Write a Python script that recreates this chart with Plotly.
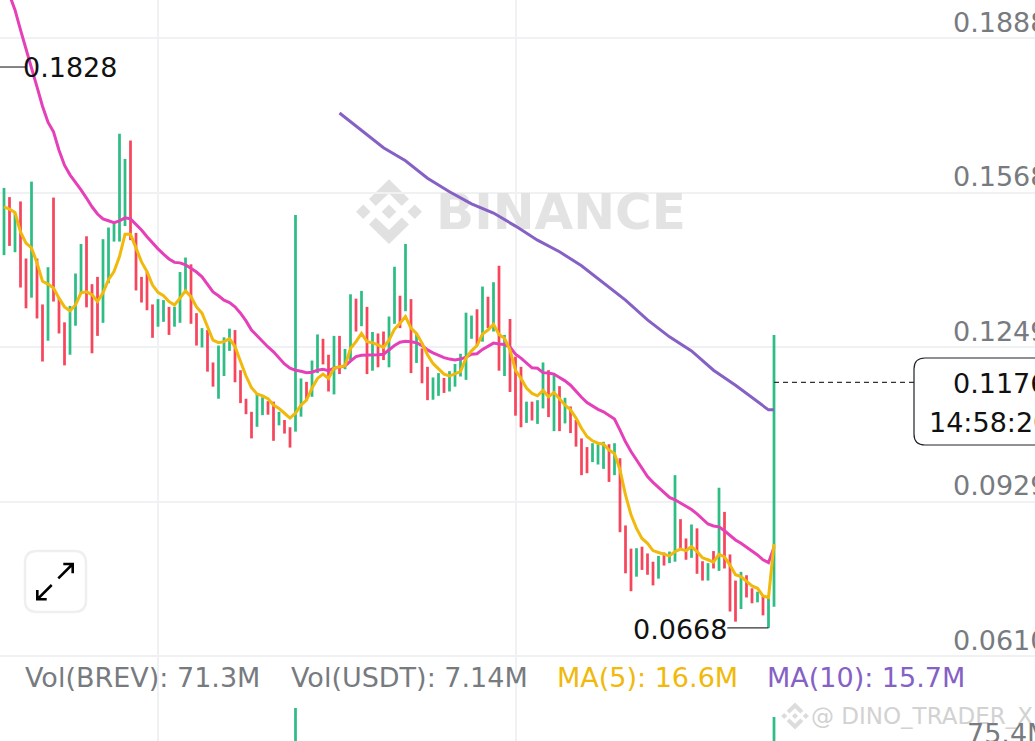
import numpy as np
import plotly.graph_objects as go

W, H = 1035, 741

# candle data (oldest first)
candle_high = [
    .1578, .1559, .1526, .1550, .1432, .1591, .1432, .1337, .1414, .1558,
    .1350, .1300, .1334, .1401, .1462, .1478, .1379, .1394, .1472, .1496,
    .1505, .1690, .1638, .1676, .1485, .1394, .1405, .1337, .1348, .1346,
    .1332, .1332, .1404, .1434, .1420, .1319, .1288, .1284, .1217, .1252,
    .1269, .1287, .1284, .1201, .1142, .1115, .1152, .1145, .1137, .1136,
    .1115, .1098, .1083, .1522, .1184, .1177, .1221, .1275, .1266, .1233,
    .1272, .1272, .1245, .1358, .1349, .1365, .1332, .1280, .1277, .1281,
    .1312, .1415, .1355, .1462, .1348, .1277, .1246, .1208, .1186, .1195,
    .1185, .1199, .1214, .1235, .1320, .1314, .1327, .1374, .1353, .1383,
    .1417, .1274, .1307, .1229, .1208, .1136, .1136, .1139, .1217, .1201,
    .1191, .1168, .1144, .1126, .1098, .1060, .1042, .1050, .1048, .1053,
    .1048, .1050, .1019, .0880, .0832, .0833, .0836, .0822, .0805, .0817,
    .0824, .0826, .0984, .0893, .0853, .0882, .0874, .0806, .0802, .0827,
    .0958, .0908, .0820, .0766, .0784, .0777, .0750, .0743, .0733, .0731,
    .1274,
]
candle_low = [
    .1439, .1458, .1445, .1372, .1329, .1351, .1308, .1219, .1262, .1343,
    .1277, .1211, .1233, .1293, .1360, .1331, .1236, .1272, .1299, .1381,
    .1467, .1467, .1499, .1470, .1366, .1341, .1325, .1268, .1291, .1301,
    .1274, .1291, .1299, .1360, .1297, .1252, .1248, .1198, .1167, .1142,
    .1189, .1241, .1176, .1133, .1110, .1060, .1084, .1108, .1109, .1055,
    .1087, .1070, .1041, .1074, .1105, .1139, .1146, .1195, .1213, .1157,
    .1151, .1193, .1203, .1222, .1281, .1292, .1193, .1200, .1207, .1222,
    .1207, .1297, .1288, .1323, .1195, .1216, .1174, .1139, .1140, .1148,
    .1154, .1157, .1167, .1188, .1181, .1266, .1253, .1260, .1288, .1281,
    .1200, .1189, .1156, .1107, .1083, .1092, .1097, .1090, .1122, .1104,
    .1075, .1075, .1091, .1071, .1043, .0984, .0988, .1011, .1006, .0997,
    .0970, .0984, .0866, .0781, .0744, .0774, .0788, .0778, .0756, .0770,
    .0797, .0802, .0805, .0829, .0809, .0813, .0780, .0766, .0766, .0791,
    .0786, .0791, .0702, .0681, .0707, .0731, .0719, .0721, .0694, .0668,
    .0712,
]
candle_up = [
    1, 0, 1, 0, 0, 1, 0, 0, 1, 0, 0, 0, 1, 1, 1, 0, 0, 0, 1, 1,
    1, 1, 1, 0, 0, 0, 0, 0, 1, 1, 0, 1, 1, 1, 0, 0, 1, 0, 0, 1,
    1, 1, 0, 0, 0, 0, 1, 1, 0, 0, 1, 0, 0, 1, 1, 0, 1, 1, 0, 0,
    1, 0, 1, 1, 0, 1, 0, 1, 0, 0, 1, 1, 0, 1, 0, 1, 0, 0, 1, 1,
    0, 1, 1, 1, 1, 1, 0, 1, 0, 1, 0, 1, 0, 0, 0, 1, 0, 1, 1, 0,
    1, 0, 1, 0, 0, 0, 0, 1, 1, 1, 0, 1, 0, 0, 0, 1, 0, 0, 0, 1,
    0, 1, 1, 0, 0, 1, 0, 0, 1, 0, 1, 0, 0, 0, 1, 0, 0, 1, 0, 1,
    1,
]

# moving averages on the price pane
ma_fast = [
    .1539, .1534, .1527, .1487, .1464, .1454, .1423, .1385, .1379, .1371,
    .1350, .1332, .1324, .1336, .1361, .1363, .1357, .1343, .1361, .1388,
    .1405, .1436, .1482, .1482, .1454, .1425, .1405, .1377, .1362, .1355,
    .1343, .1336, .1350, .1365, .1353, .1332, .1319, .1291, .1263, .1258,
    .1260, .1266, .1250, .1219, .1189, .1165, .1152, .1148, .1142, .1129,
    .1122, .1112, .1102, .1112, .1129, .1139, .1164, .1184, .1193, .1184,
    .1205, .1208, .1210, .1246, .1260, .1277, .1260, .1258, .1253, .1248,
    .1263, .1286, .1298, .1312, .1288, .1277, .1257, .1233, .1215, .1205,
    .1193, .1189, .1193, .1198, .1226, .1241, .1252, .1276, .1284, .1296,
    .1275, .1267, .1243, .1201, .1184, .1164, .1153, .1148, .1159, .1146,
    .1155, .1142, .1129, .1119, .1102, .1081, .1064, .1055, .1050, .1048,
    .1036, .1029, .0995, .0943, .0902, .0874, .0853, .0843, .0828, .0824,
    .0820, .0817, .0826, .0831, .0828, .0836, .0826, .0813, .0809, .0804,
    .0820, .0815, .0798, .0778, .0774, .0764, .0755, .0750, .0734, .0731,
    .0842,
]
ma_mid = [
    .1977, .1946, .1905, .1863, .1826, .1787, .1747, .1714, .1694, .1656,
    .1625, .1605, .1590, .1574, .1557, .1539, .1524, .1514, .1510, .1506,
    .1510, .1516, .1514, .1503, .1491, .1477, .1464, .1452, .1441, .1431,
    .1424, .1423, .1419, .1412, .1404, .1394, .1379, .1363, .1355, .1346,
    .1341, .1332, .1319, .1303, .1284, .1272, .1261, .1249, .1239, .1226,
    .1214, .1205, .1201, .1199, .1196, .1197, .1201, .1203, .1200, .1205,
    .1207, .1210, .1220, .1229, .1232, .1232, .1233, .1233, .1234, .1243,
    .1252, .1259, .1261, .1260, .1258, .1252, .1243, .1237, .1232, .1227,
    .1224, .1222, .1224, .1228, .1234, .1235, .1244, .1251, .1257, .1255,
    .1254, .1249, .1234, .1226, .1215, .1206, .1205, .1196, .1195, .1193,
    .1186, .1179, .1170, .1157, .1145, .1134, .1127, .1120, .1115, .1107,
    .1100, .1077, .1053, .1033, .1015, .0998, .0981, .0969, .0958, .0947,
    .0938, .0933, .0926, .0919, .0913, .0904, .0893, .0883, .0879, .0877,
    .0869, .0860, .0850, .0843, .0835, .0826, .0819, .0809, .0803, .0835,
]
ma_slow_idx = [61, 65, 69, 73, 77, 81, 85, 89, 93, 97, 101, 105, 109, 113, 117, 121, 125, 129, 133, 137, 139, 140]
ma_slow = [
    .1733, .1696, .1661, .1634, .1598, .1570, .1545, .1526, .1499, .1470, .1446,
    .1417, .1381, .1346, .1305, .1270, .1241, .1201, .1170, .1135, .1119, .1119,
]

# volume pane, only the two tallest bars reach into the crop
vol_idx = [53, 140]
vol_vals = [80.3, 71.3]
vol_up = [1, 1]

price_ticks = [.1888, .1568, .1249, .0929, .0610]
price_labels = ["0.1888", "0.1568", "0.1249", "0.0929", "0.0610"]
time_grid = [28, 93]

high_label, high_idx = .1828, 3.9
low_label, low_idx = .0668, 139
last_price = .1176

GREEN = "#2EBD85"
RED = "#F6465D"
PINK = "#E540B8"
YELLOW = "#F0B90B"
PURPLE = "#8661C5"
GRID = "#F0F1F2"
GREY = "#777B80"
FONT = "DejaVu Sans"


def xp(x):
    return x / W


def yp(y):
    return 1 - y / H


def poly(points):
    return "M " + " L ".join(f"{xp(x):.5f},{yp(y):.5f}" for x, y in points) + " Z"


def binance_logo(cx, cy, s):
    # three diamonds and two chevrons, s=1 is the big watermark
    parts = []
    for dx in (-25.7, 0, 25.7):
        c = cx + dx * s
        r = 7.3 * s
        parts.append(poly([(c - r, cy), (c, cy - r), (c + r, cy), (c, cy + r)]))
    for sign in (1, -1):
        pts = [(0, -32.4), (20, -12.7), (12.7, -5.7), (0, -18.4), (-13.3, -5.7), (-20, -12.7)]
        parts.append(poly([(cx + a * s, cy + sign * b * s) for a, b in pts]))
    return " ".join(parts)


def rounded_box(x0, y0, x1, y1, r):
    return (
        f"M {xp(x0 + r)},{yp(y0)} L {xp(x1 - r)},{yp(y0)} Q {xp(x1)},{yp(y0)} {xp(x1)},{yp(y0 + r)} "
        f"L {xp(x1)},{yp(y1 - r)} Q {xp(x1)},{yp(y1)} {xp(x1 - r)},{yp(y1)} "
        f"L {xp(x0 + r)},{yp(y1)} Q {xp(x0)},{yp(y1)} {xp(x0)},{yp(y1 - r)} "
        f"L {xp(x0)},{yp(y0 + r)} Q {xp(x0)},{yp(y0)} {xp(x0 + r)},{yp(y0)} Z"
    )


def open_path(*lines):
    out = []
    for line in lines:
        out.append("M " + " L ".join(f"{xp(x):.5f},{yp(y):.5f}" for x, y in line))
    return " ".join(out)


fig = go.Figure()

# big watermark text goes first so the lines sit on top of it
fig.add_trace(go.Scatter(
    x=[(561 - 4) / 5.5], y=[.19666 - 216 * .0002068], mode="text", text=["BINANCE"],
    textfont=dict(family=FONT, size=50, color="#E3E3E3", weight="bold"), textposition="middle center",
    showlegend=False, hoverinfo="skip",
))

idx = np.arange(len(candle_high))
high = np.array(candle_high)
low = np.array(candle_low)
fig.add_trace(go.Bar(
    x=idx, base=low, y=high - low, width=0.5,
    marker=dict(color=[GREEN if u else RED for u in candle_up], line_width=0),
    showlegend=False, hoverinfo="skip",
))
fig.add_trace(go.Bar(
    x=vol_idx, y=vol_vals, width=0.5, yaxis="y2",
    marker=dict(color=[GREEN if u else RED for u in vol_up], line_width=0),
    showlegend=False, hoverinfo="skip",
))

fig.add_trace(go.Scatter(x=idx[1:], y=ma_mid, mode="lines", line=dict(color=PINK, width=3), showlegend=False, hoverinfo="skip"))
fig.add_trace(go.Scatter(x=idx, y=ma_fast, mode="lines", line=dict(color=YELLOW, width=3), showlegend=False, hoverinfo="skip"))
fig.add_trace(go.Scatter(x=ma_slow_idx, y=ma_slow, mode="lines", line=dict(color=PURPLE, width=3), showlegend=False, hoverinfo="skip"))

shapes = [
    # logos
    dict(type="path", xref="paper", yref="paper", path=binance_logo(389, 211.7, 1), fillcolor="#E1E1E1", line_width=0, layer="below"),
    dict(type="path", xref="paper", yref="paper", path=binance_logo(795, 716, 0.42), fillcolor="#DCDCDC", line_width=0, layer="above"),
    # high and low leaders
    dict(type="line", xref="x", yref="y", x0=-0.8, x1=high_idx, y0=high_label, y1=high_label, line=dict(color="#333333", width=1.2)),
    dict(type="line", xref="x", yref="y", x0=131.5, x1=low_idx, y0=low_label, y1=low_label, line=dict(color="#333333", width=1.2)),
    # current price
    dict(type="line", xref="x", yref="y", x0=140, x1=165.5, y0=last_price, y1=last_price, line=dict(color="#333333", width=1.2, dash="5px,4px")),
    dict(type="path", xref="paper", yref="paper", path=rounded_box(914, 358, 1060, 445, 11), fillcolor="white", line=dict(color="#1E2329", width=1.2)),
    # fullscreen button
    dict(type="path", xref="paper", yref="paper", path=rounded_box(25, 551, 86, 612, 12), fillcolor="white", line=dict(color="#EEEFF0", width=2.5)),
    dict(type="path", xref="paper", yref="paper", line=dict(color="#000000", width=2.6), path=open_path(
        [(58.3, 578.3), (72.7, 564)], [(63.3, 564), (72.7, 564), (72.7, 573.3)],
        [(51.7, 585), (37.3, 599.3)], [(37.3, 590), (37.3, 599.3), (46.7, 599.3)],
    )),
]

annotations = []


def label(text, x, y, color, size=27, anchor="left"):
    annotations.append(dict(
        text=text, x=xp(x), y=yp(y), xref="paper", yref="paper", xanchor=anchor, yanchor="middle",
        showarrow=False, font=dict(family=FONT, size=size, color=color), borderpad=0, align="left",
    ))


for value, text in zip(price_ticks, price_labels):
    annotations.append(dict(
        text=text, x=xp(951.5), y=value, xref="paper", yref="y", xanchor="left", yanchor="middle", yshift=16,
        showarrow=False, font=dict(family=FONT, size=27, color=GREY), borderpad=0,
    ))

label("0.1828", 21.5, 68, "#111111")
label("0.0668", 631.5, 629, "#111111")
label("0.1176", 951.5, 383, "#111111")
label("14:58:20", 927.5, 423, "#111111")
label("Vol(BREV): 71.3M", 23.5, 677, GREY)
label("Vol(USDT): 7.14M", 289.5, 677, GREY)
label("MA(5): 16.6M", 555.5, 677, YELLOW)
label("MA(10): 15.7M", 765.5, 677, PURPLE)
label("@ DINO_TRADER_X", 810, 716, "#D2D2D2", size=23)
label("75.4M", 965.5, 733, GREY)

fig.update_layout(
    width=W, height=H, margin=dict(l=0, r=0, t=0, b=0, pad=0),
    paper_bgcolor="white", plot_bgcolor="white", showlegend=False, barmode="overlay",
    hovermode=False, shapes=shapes, annotations=annotations,
    xaxis=dict(
        range=[-4 / 5.5, 1031 / 5.5], domain=[0, 1], tickmode="array", tickvals=time_grid,
        showticklabels=False, ticks="", showgrid=True, gridcolor=GRID, gridwidth=1.5, zeroline=False, showline=False,
    ),
    yaxis=dict(
        range=[.19666 - H * .0002068, .19666], domain=[0, 1], tickmode="array", tickvals=price_ticks,
        showticklabels=False, ticks="", showgrid=True, gridcolor=GRID, gridwidth=1.5, zeroline=False, showline=False,
    ),
    yaxis2=dict(
        range=[47.3, 131.3], domain=[0, 84 / H], anchor="x", showgrid=False, showticklabels=False,
        ticks="", zeroline=False, showline=False,
    ),
)

# the page's default body margin would push the chart 8px off
fig.write_html("out.html", config=dict(displayModeBar=False), post_script="document.body.style.margin='0';")
